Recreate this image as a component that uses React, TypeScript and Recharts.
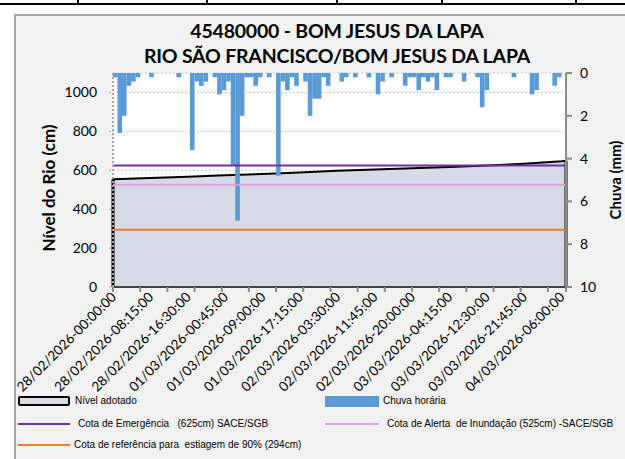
import React from "react";
import {
  ComposedChart,
  Area,
  Bar,
  XAxis,
  YAxis,
  CartesianGrid,
  ReferenceLine,
} from "recharts";

// x positions are in hours since 28/02/2026 00:00 (category slots of the original sheet)
const tickLabels = [
  "28/02/2026-00:00:00",
  "28/02/2026-08:15:00",
  "28/02/2026-16:30:00",
  "01/03/2026-00:45:00",
  "01/03/2026-09:00:00",
  "01/03/2026-17:15:00",
  "02/03/2026-03:30:00",
  "02/03/2026-11:45:00",
  "02/03/2026-20:00:00",
  "03/03/2026-04:15:00",
  "03/03/2026-12:30:00",
  "03/03/2026-21:45:00",
  "04/03/2026-06:00:00",
];
const tickHours = [0, 8.25, 16.5, 24.75, 33, 41.25, 49.5, 57.75, 66, 74.25, 82.5, 90.75, 99];
const minorTicks = [0, 6, 12, 18, 24, 30, 36, 42, 48, 54, 60, 66, 72, 78, 84, 90, 96, 100];

// nível adotado (cm)
const levelHours = [0, 8.25, 16.5, 24.75, 33, 41.25, 49.5, 57.75, 66, 74.25, 82.5, 90.75, 99, 100];
const levelValues = [554, 560, 567, 574, 581, 589, 597, 604, 611, 617, 624, 634, 646, 649];

// chuva horária (mm), one value per hour
const rainHourly = [
  0.2, 2.8, 2.0, 0.6, 0.4, 0.2, 0, 0, 0.2, 0,
  0, 0, 0, 0, 0.2, 0, 0, 3.6, 0.4, 0.6,
  0.4, 0, 0.2, 1.0, 0.8, 0.4, 4.3, 6.9, 2.0, 0.2,
  0.2, 0.6, 0.2, 0, 0.2, 0, 4.8, 0.4, 0.8, 0.2,
  0.6, 0, 0.4, 2.0, 1.2, 1.2, 0.2, 0.6, 0, 0,
  0.4, 0.2, 0, 0.2, 0, 0, 0.2, 0, 1.0, 0.4,
  0, 0.2, 0, 0, 0.6, 0.2, 0.2, 0.8, 0.2, 0.4,
  0.2, 0.8, 0, 0.2, 0.2, 0, 0, 0.4, 0, 0,
  0.2, 1.6, 0.8, 0, 0, 0, 0, 0, 0.2, 0,
  0, 0, 1.0, 0.8, 0, 0, 0, 0.6, 0.2, 0,
];

const levelTicks = [0, 200, 400, 600, 800, 1000];
const rainTicks = [0, 2, 4, 6, 8, 10];

const COTA_EMERGENCIA = 625;
const COTA_ALERTA = 525;
const COTA_ESTIAGEM = 294;

const C = {
  level: "#D6DCE5",
  rain: "#5B9BD5",
  emerg: "#7030A0",
  alert: "#E59EE5",
  dry: "#ED7D31",
  axis: "#8C8C8C",
};

type Row = { x: number; level?: number; rain?: number };
const rows: Row[] = [
  ...rainHourly.map((r, i) => ({ x: i + 0.5, rain: r })),
  ...levelHours.map((h, i) => ({ x: h, level: levelValues[i] })),
].sort((a, b) => a.x - b.x);

const RAIN_W = 4.6;

// the axis is numeric, so recharts squeezes bars to the smallest gap between rows;
// keep the computed centre and height but draw the hourly width
const RainBar = (p: any) => {
  const h = Number(p.height) || 0;
  if (h === 0) return null;
  const cx = p.x + p.width / 2;
  const top = h < 0 ? p.y + h : p.y;
  return <rect x={cx - RAIN_W / 2} y={top} width={RAIN_W} height={Math.abs(h)} fill={C.rain} />;
};

const XTick = (props: any) => {
  const { x, y, payload } = props;
  const v = payload.value;
  const li = tickHours.indexOf(v);
  const minor = minorTicks.includes(v);
  const tx = x + 4;
  const ty = y + 11;
  return (
    <g>
      {minor && <line x1={x} y1={y} x2={x} y2={y + 5} stroke={C.axis} strokeWidth={2} />}
      {li >= 0 && (
        <text
          x={tx}
          y={ty}
          transform={`rotate(-45 ${tx} ${ty})`}
          textAnchor="end"
          fontSize={13.5}
          fontFamily="Lato"
          fill="#000"
        >
          {tickLabels[li]}
        </text>
      )}
    </g>
  );
};

const allXTicks = Array.from(new Set([...tickHours, ...minorTicks])).sort((a, b) => a - b);

const abs = (s: React.CSSProperties): React.CSSProperties => ({ position: "absolute", ...s });
const legendText: React.CSSProperties = {
  position: "absolute",
  fontFamily: "'Liberation Sans', Arial",
  fontSize: 10,
  lineHeight: "12px",
  color: "#000",
  whiteSpace: "pre",
};
const axisTitle: React.CSSProperties = {
  position: "absolute",
  transform: "translate(-50%, -50%) rotate(-90deg)",
  fontFamily: "Lato",
  fontWeight: 700,
  whiteSpace: "nowrap",
  color: "#000",
};

export default function App() {
  return (
    <div style={{ position: "fixed", left: 0, top: 0, width: 625, height: 459, background: "#fff", overflow: "hidden" }}>
      {/* table lines above the chart */}
      <div style={abs({ left: 0, top: 3, width: 625, height: 2, background: "#000" })} />
      {[78, 207, 337, 442, 576].map((x) => (
        <div key={x} style={abs({ left: x - 1, top: 0, width: 2, height: 5, background: "#000" })} />
      ))}
      {/* chart frame */}
      <div
        style={abs({
          left: 14,
          top: 14,
          width: 640,
          height: 470,
          background: "#F2F2F2",
          borderLeft: "2px solid #A6A6A6",
          borderTop: "2px solid #A6A6A6",
        })}
      />

      <div style={abs({ left: 37, top: 18, width: 600, textAlign: "center", fontFamily: "Lato", fontWeight: 700, fontSize: 19.5, lineHeight: "25px", letterSpacing: -0.2, color: "#000" })}>
        <div>45480000 - BOM JESUS DA LAPA</div>
        <div>RIO SÃO FRANCISCO/BOM JESUS DA LAPA</div>
      </div>

      <div style={abs({ left: 0, top: 0 })}>
        <ComposedChart width={625} height={459} data={rows} margin={{ top: 73, right: 0, left: 0, bottom: 0 }}>
          <CartesianGrid
            yAxisId="level"
            vertical={false}
            stroke="#C8C8C8"
            strokeDasharray="2 2"
            fill="#fff"
          />
          <XAxis
            dataKey="x"
            type="number"
            domain={[0, 100]}
            ticks={allXTicks}
            interval={0}
            tick={<XTick />}
            tickLine={false}
            tickSize={0}
            tickMargin={0}
            height={172}
            axisLine={{ stroke: "#404040", strokeWidth: 2 }}
          />
          <YAxis
            yAxisId="level"
            width={113}
            domain={[0, 1100]}
            ticks={levelTicks}
            tick={{ fill: "#000", fontSize: 14, fontFamily: "Lato" }}
            tickSize={4}
            tickMargin={12}
            axisLine={{ stroke: "#A6A6A6", strokeDasharray: "2 2", strokeWidth: 2 }}
            tickLine={{ stroke: "#A6A6A6", strokeDasharray: "2 2" }}
          />
          <YAxis
            yAxisId="rain"
            orientation="right"
            width={59}
            reversed
            domain={[0, 10]}
            ticks={rainTicks}
            tick={{ fill: "#000", fontSize: 14, fontFamily: "Lato" }}
            tickSize={6}
            tickMargin={8}
            axisLine={{ stroke: C.axis, strokeWidth: 2 }}
            tickLine={{ stroke: C.axis, strokeWidth: 2 }}
          />
          <Area
            yAxisId="level"
            dataKey="level"
            type="linear"
            connectNulls
            fill={C.level}
            fillOpacity={1}
            stroke="#000"
            strokeWidth={2}
            isAnimationActive={false}
          />
          <ReferenceLine
            yAxisId="level"
            segment={[{ x: levelHours[0], y: 0 }, { x: levelHours[0], y: levelValues[0] }]}
            stroke="#000"
            strokeWidth={3}
          />
          <ReferenceLine
            yAxisId="level"
            segment={[
              { x: levelHours[levelHours.length - 1], y: 0 },
              { x: levelHours[levelHours.length - 1], y: levelValues[levelValues.length - 1] },
            ]}
            stroke="#000"
            strokeWidth={3}
          />
          <Bar yAxisId="rain" dataKey="rain" fill={C.rain} shape={<RainBar />} isAnimationActive={false} />
          <ReferenceLine yAxisId="level" y={COTA_ESTIAGEM} stroke={C.dry} strokeWidth={2} />
          <ReferenceLine yAxisId="level" y={COTA_ALERTA} stroke={C.alert} strokeWidth={2} />
          <ReferenceLine yAxisId="level" y={COTA_EMERGENCIA} stroke={C.emerg} strokeWidth={2} />
        </ComposedChart>
      </div>

      {/* axis titles */}
      <div style={{ ...axisTitle, left: 48, top: 188, fontSize: 17 }}>Nível do Rio (cm)</div>
      <div style={{ ...axisTitle, left: 615, top: 180, fontSize: 15 }}>Chuva (mm)</div>

      {/* legend */}
      <div style={abs({ left: 18, top: 396, width: 52, height: 10, background: C.level, border: "2px solid #000", borderRadius: 2, boxSizing: "border-box" })} />
      <div style={{ ...legendText, left: 75, top: 395 }}>Nível adotado</div>
      <div style={abs({ left: 325, top: 396, width: 54, height: 11, background: C.rain })} />
      <div style={{ ...legendText, left: 383, top: 395 }}>Chuva horária</div>

      <div style={abs({ left: 18, top: 423, width: 52, height: 2, background: C.emerg })} />
      <div style={{ ...legendText, left: 78, top: 418 }}>Cota de Emergência   (625cm) SACE/SGB</div>
      <div style={abs({ left: 325, top: 423, width: 54, height: 2, background: C.alert })} />
      <div style={{ ...legendText, left: 387, top: 418 }}>Cota de Alerta  de Inundação (525cm) -SACE/SGB</div>

      <div style={abs({ left: 18, top: 444, width: 52, height: 2, background: C.dry })} />
      <div style={{ ...legendText, left: 74, top: 439 }}>Cota de referência para  estiagem de 90% (294cm)</div>
    </div>
  );
}
